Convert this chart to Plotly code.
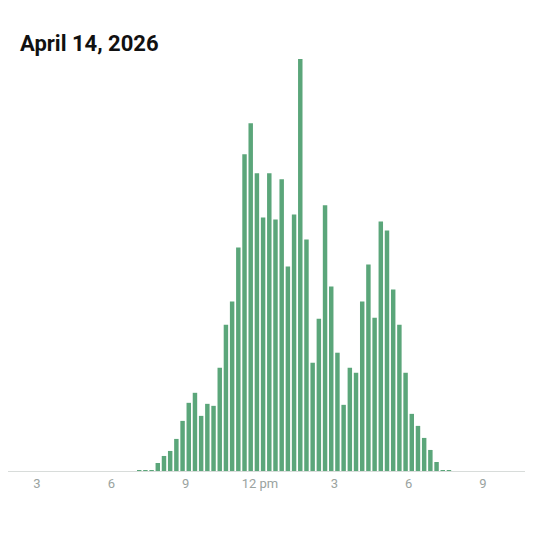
import plotly.graph_objects as go

start_hour = 7.0
values = [0.5,0.5,1,8,15,20,32,50,68,78,55,67,65,103,146,169,223,316,347,297,
          253,297,251,291,204,256,411,231,108,152,265,184,118,66,103,98,169,206,153,249,
          240,181,146,98,57,45,33,21,9,1,0.5]
x = [start_hour + 0.25*i + 0.125 for i in range(len(values))]
tick_vals = [3,6,9,12,15,18,21]
tick_text = ["3","6","9","12 pm","3","6","9"]

fig = go.Figure(go.Bar(x=x, y=values, width=0.18, marker_color="#5ba67a", marker_line_width=0))
fig.update_layout(
    width=533, height=533, plot_bgcolor="white", paper_bgcolor="white",
    margin=dict(l=0, r=0, t=50, b=70), showlegend=False,
    font=dict(family="Roboto", color="#9aa3a0"),
    annotations=[dict(text="<b>April 14, 2026</b>", xref="x domain", yref="y domain",
                      x=10/533, y=1 + 15/413, showarrow=False,
                      font=dict(size=22, color="#111", family="Liberation Sans Narrow, Roboto"),
                      xanchor="left", yanchor="middle")],
)
fig.update_xaxes(range=[1.830, 23.34], tickvals=tick_vals, ticktext=tick_text, showgrid=False,
                 showline=True, linecolor="#d8dcda", linewidth=1, ticks="",
                 tickfont=dict(size=13, color="#9aa3a0"), zeroline=False)
fig.update_yaxes(range=[0, 412], visible=False)
fig.write_html("out.html")
